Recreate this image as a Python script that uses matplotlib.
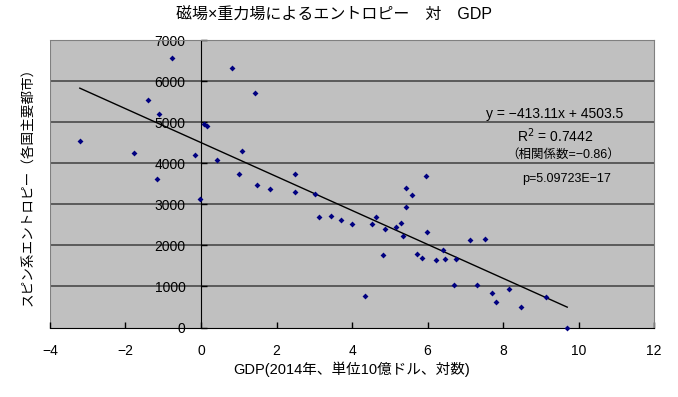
import numpy as np
import matplotlib
matplotlib.use('Agg')
from matplotlib import pyplot as plt

plt.rcParams['font.family'] = ['Liberation Sans', 'Noto Sans CJK JP', 'DejaVu Sans']
plt.rcParams['axes.unicode_minus'] = True

# GDP (log) vs entropy
gdp_log = [-3.21, -0.76, 0.81, 1.42, -1.40, -1.12, 0.07, 0.17, -1.77, -0.17,
           1.08, 0.42, -1.17, 1.01, 1.48, 1.82, -0.03, 2.48, 2.50, 3.03,
           3.12, 3.45, 3.70, 3.99, 4.54, 4.64, 4.88, 4.82, 4.34, 5.17,
           5.29, 5.34, 5.42, 5.43, 5.59, 5.95, 5.99, 5.72, 5.85, 6.23,
           6.40, 6.47, 6.76, 6.70, 7.13, 7.52, 7.31, 7.70, 7.81, 8.17,
           8.48, 9.14, 9.70]
entropy = [4550, 6570, 6320, 5710, 5550, 5210, 4950, 4920, 4240, 4210,
           4310, 4070, 3620, 3740, 3480, 3380, 3130, 3750, 3300, 3260,
           2690, 2710, 2610, 2530, 2510, 2690, 2390, 1760, 760, 2450,
           2540, 2230, 2930, 3390, 3220, 3680, 2330, 1780, 1690, 1655,
           1900, 1670, 1680, 1030, 2120, 2155, 1030, 850, 620, 950,
           490, 740, 0]

slope = -413.11
intercept = 4503.5

x_ticks = [-4, -2, 0, 2, 4, 6, 8, 10, 12]
y_ticks = [0, 1000, 2000, 3000, 4000, 5000, 6000, 7000]

fig = plt.figure(figsize=(6.78, 3.97), dpi=100)
ax = fig.add_axes([0.0737, 0.175, 0.891, 0.724])
ax.set_facecolor('#c0c0c0')

ax.set_xlim(-4, 12)
ax.set_ylim(0, 7000)
ax.set_xticks(x_ticks)
ax.set_yticks(y_ticks)
ax.set_xticklabels(['\u2212' + str(-t) if t < 0 else str(t) for t in x_ticks])

# gridlines
for yv in y_ticks[1:-1]:
    ax.axhline(yv, color='#4a4a4a', lw=1.2, zorder=1)

# frame
ax.spines['top'].set_color('#808080')
ax.spines['right'].set_color('#808080')
ax.spines['left'].set_position(('data', 0))
ax.spines['left'].set_color('black')
ax.spines['bottom'].set_color('black')
ax.axvline(-4, color='#808080', lw=1.5, zorder=1)

ax.tick_params(axis='both', direction='in', length=4, width=1, labelsize=10)
ax.tick_params(axis='x', pad=12)
ax.tick_params(axis='y', pad=11)

# scatter + trend line
ax.plot(gdp_log, entropy, 'D', color='#000080', ms=3.0, mew=0, zorder=4, clip_on=False)
xl = np.array([min(gdp_log), max(gdp_log)])
ax.plot(xl, slope * xl + intercept, color='black', lw=1, zorder=3)

ax.text(9.37, 5200, 'y = \u2212413.11x + 4503.5', ha='center', va='center', fontsize=10)
ax.text(9.38, 4670, 'R$^2$ = 0.7442', ha='center', va='center', fontsize=10)
ax.text(9.60, 4205, '（相関係数=\u22120.86）', ha='center', va='center', fontsize=9)
ax.text(9.67, 3620, 'p=5.09723E\u221217', ha='center', va='center', fontsize=9)

fig.text(0.493, 0.962, '磁場×重力場によるエントロピー　対　GDP', ha='center', va='center', fontsize=11.5)
ax.set_xlabel('GDP(2014年、単位10億ドル、対数)', fontsize=10.5, labelpad=2)
fig.text(0.041, 0.537, 'スピン系エントロピー（各国主要都市）', rotation=90,
         ha='center', va='center', fontsize=9.8)

fig.savefig('out.png', dpi=100)
